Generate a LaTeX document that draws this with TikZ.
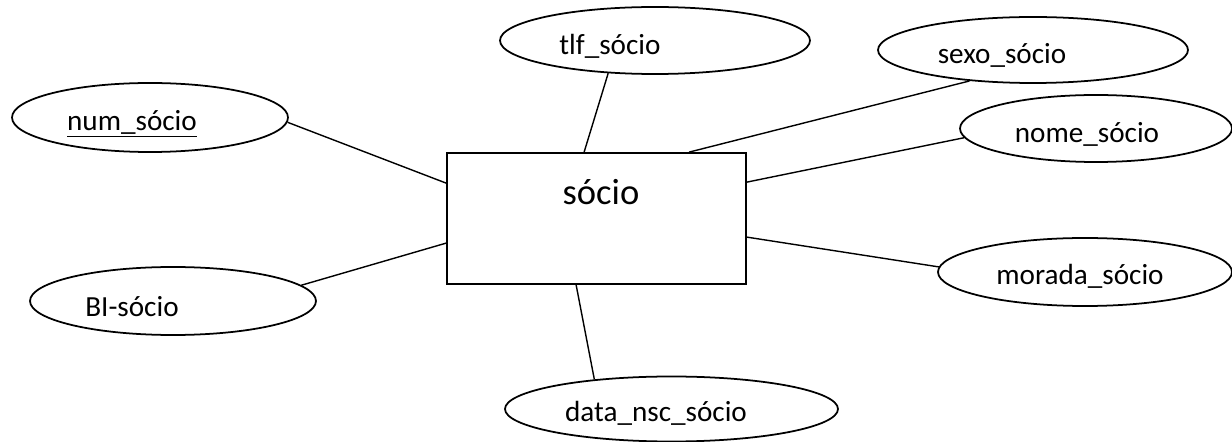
\documentclass[tikz,border=0pt]{standalone}
\usepackage{fontspec}
\setmainfont{Carlito}
\usepackage{tikz}
\usetikzlibrary{shapes.geometric, positioning, calc}
\tikzset{
  attrib/.style 2 args={ellipse, draw, line width=1pt, inner sep=0pt,
    minimum width=#1*0.02cm, minimum height=#2*0.02cm},
  attxt/.style={inner sep=0pt, font=\fontsize{16.6}{20}\selectfont},
  link/.style={line width=0.8pt}
}

\begin{document}
\begin{tikzpicture}[x=0.02cm, y=-0.02cm]
\useasboundingbox (0,0) rectangle (1232,442);
% entidade
\node[draw, line width=1pt, minimum width=299*0.02cm, minimum height=131*0.02cm, inner sep=0pt] (ent) at (596.5,218.5) {};
\node[inner sep=0pt, font=\fontsize{20.8}{25}\selectfont] (enttxt) at (601,192) {sócio};
% atributos
\node[attrib={276}{69}] (num) at (150,117.5) {};
\node[attxt] (numtxt) at (132,124) {\underline{num\_sócio}};
\node[attrib={310}{67}] (tlf) at (655,40.5) {};
\node[attxt] (tlftxt) at (610,46) {tlf\_sócio};
\node[attrib={310}{66}] (sexo) at (1033,50) {};
\node[attxt] (sexotxt) at (1002,55) {sexo\_sócio};
\node[attrib={272}{67}] (nome) at (1096,128.5) {};
\node[attxt] (nometxt) at (1087,134) {nome\_sócio};
\node[attrib={294}{68}] (morada) at (1085,272) {};
\node[attxt] (moradatxt) at (1080,276) {morada\_sócio};
\node[attrib={286}{68}] (bi) at (173,301) {};
\node[attxt] (bitxt) at (132,307) {BI-sócio};
\node[attrib={333}{65}] (data) at (671.5,409) {};
\node[attxt] (datatxt) at (656,413) {data\_nsc\_sócio};
% ligacoes
\draw[link] ($(ent.north west)+(0,31)$) -- (num.-2);
\draw[link] ($(ent.north west)+(0,91)$) -- (bi.7);
\draw[link] ($(ent.north west)+(138,0)$) -- (tlf.215);
\draw[link] ($(ent.north west)+(243,0)$) -- (sexo.206);
\draw[link] ($(ent.north east)+(0,30)$) -- (nome.184);
\draw[link] ($(ent.north east)+(0,85)$) -- (morada.178);
\draw[link] ($(ent.south west)+(130,0)$) -- (data.159);
\end{tikzpicture}
\end{document}
